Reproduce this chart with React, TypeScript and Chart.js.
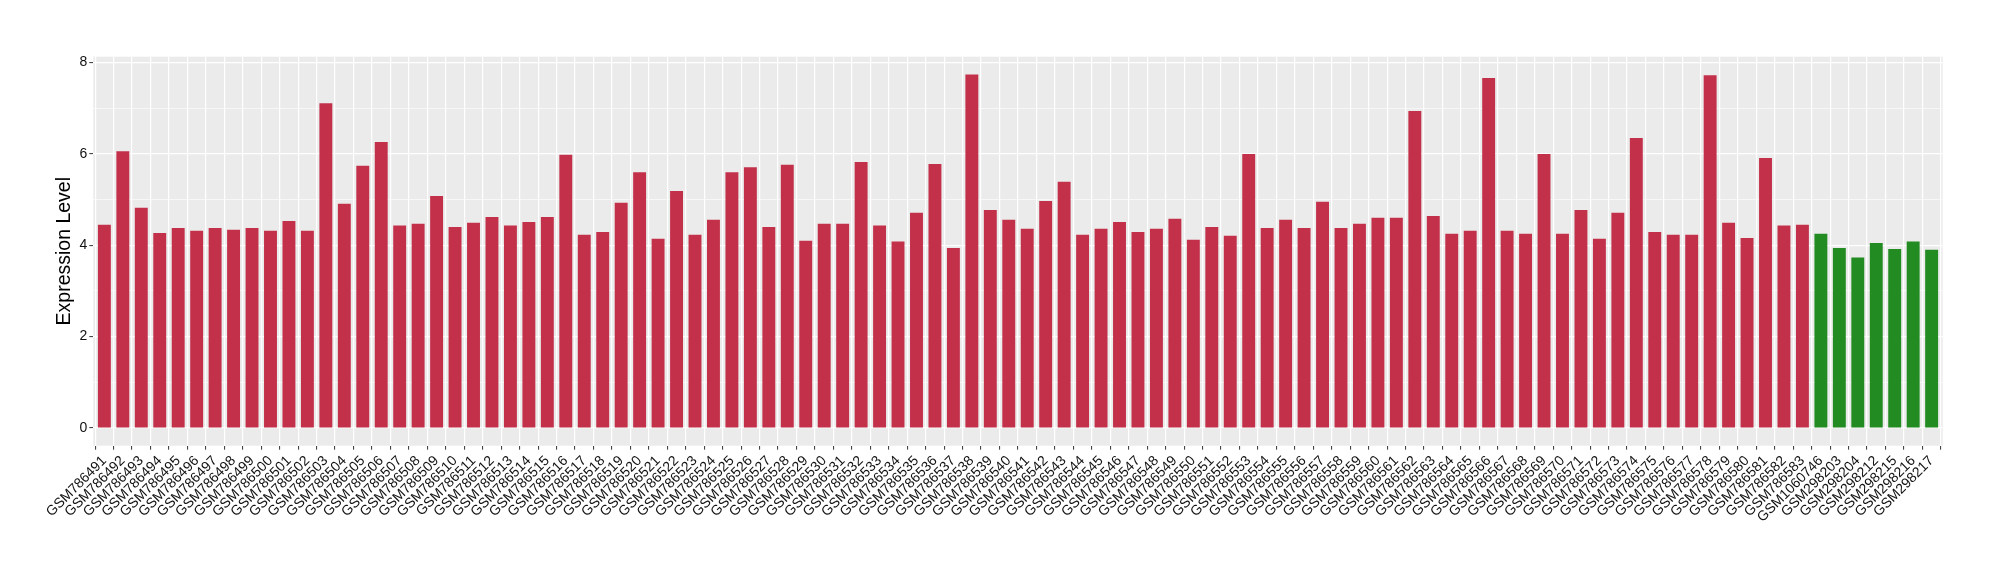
import React, { useEffect, useRef } from 'react';
import { Chart, registerables } from 'chart.js';

Chart.register(...registerables);

const tumorSamples = [
  'GSM786491', 'GSM786492', 'GSM786493', 'GSM786494', 'GSM786495', 'GSM786496', 'GSM786497', 'GSM786498', 'GSM786499', 'GSM786500',
  'GSM786501', 'GSM786502', 'GSM786503', 'GSM786504', 'GSM786505', 'GSM786506', 'GSM786507', 'GSM786508', 'GSM786509', 'GSM786510',
  'GSM786511', 'GSM786512', 'GSM786513', 'GSM786514', 'GSM786515', 'GSM786516', 'GSM786517', 'GSM786518', 'GSM786519', 'GSM786520',
  'GSM786521', 'GSM786522', 'GSM786523', 'GSM786524', 'GSM786525', 'GSM786526', 'GSM786527', 'GSM786528', 'GSM786529', 'GSM786530',
  'GSM786531', 'GSM786532', 'GSM786533', 'GSM786534', 'GSM786535', 'GSM786536', 'GSM786537', 'GSM786538', 'GSM786539', 'GSM786540',
  'GSM786541', 'GSM786542', 'GSM786543', 'GSM786544', 'GSM786545', 'GSM786546', 'GSM786547', 'GSM786548', 'GSM786549', 'GSM786550',
  'GSM786551', 'GSM786552', 'GSM786553', 'GSM786554', 'GSM786555', 'GSM786556', 'GSM786557', 'GSM786558', 'GSM786559', 'GSM786560',
  'GSM786561', 'GSM786562', 'GSM786563', 'GSM786564', 'GSM786565', 'GSM786566', 'GSM786567', 'GSM786568', 'GSM786569', 'GSM786570',
  'GSM786571', 'GSM786572', 'GSM786573', 'GSM786574', 'GSM786575', 'GSM786576', 'GSM786577', 'GSM786578', 'GSM786579', 'GSM786580',
  'GSM786581', 'GSM786582', 'GSM786583',
];

const tumorValues = [
  4.45, 6.06, 4.82, 4.27, 4.38, 4.32, 4.38, 4.34, 4.38, 4.32,
  4.53, 4.32, 7.11, 4.91, 5.74, 6.26, 4.43, 4.47, 5.08, 4.40,
  4.49, 4.62, 4.43, 4.51, 4.62, 5.98, 4.23, 4.29, 4.93, 5.60,
  4.14, 5.19, 4.23, 4.56, 5.60, 5.71, 4.40, 5.76, 4.10, 4.47,
  4.47, 5.82, 4.43, 4.08, 4.71, 5.78, 3.94, 7.74, 4.77, 4.56,
  4.36, 4.97, 5.39, 4.23, 4.36, 4.51, 4.29, 4.36, 4.58, 4.12,
  4.40, 4.21, 6.00, 4.38, 4.56, 4.38, 4.95, 4.38, 4.47, 4.60,
  4.60, 6.94, 4.64, 4.25, 4.32, 7.66, 4.32, 4.25, 6.00, 4.25,
  4.77, 4.14, 4.71, 6.35, 4.29, 4.23, 4.23, 7.72, 4.49, 4.16,
  5.91, 4.43, 4.45,
];

const normalSamples = ['GSM1060746', 'GSM298203', 'GSM298204', 'GSM298212', 'GSM298215', 'GSM298216', 'GSM298217'];
const normalValues = [4.25, 3.94, 3.73, 4.05, 3.92, 4.08, 3.90];

const yTickValues = [0, 2, 4, 6, 8];
const yTickLabels = ['0', '2', '4', '6', '8'];
const yMinorValues = [1, 3, 5, 7];

const TUMOR_COLOR = '#C3304A';
const NORMAL_COLOR = '#228B22';
const PANEL_BG = '#EBEBEB';
const FONT = "'Liberation Sans', Arial, Helvetica, sans-serif";

const panelBackground = {
  id: 'panelBackground',
  beforeDraw(chart: any) {
    const { ctx, chartArea } = chart;
    ctx.save();
    ctx.fillStyle = PANEL_BG;
    ctx.fillRect(chartArea.left, chartArea.top, chartArea.right - chartArea.left, chartArea.bottom - chartArea.top);
    ctx.restore();
  },
};

export default function App() {
  const canvasRef = useRef<HTMLCanvasElement | null>(null);

  useEffect(() => {
    const canvas = canvasRef.current;
    if (!canvas) return;

    const labels = [...tumorSamples, ...normalSamples];
    const values = [...tumorValues, ...normalValues];
    const colors = [
      ...tumorSamples.map(() => TUMOR_COLOR),
      ...normalSamples.map(() => NORMAL_COLOR),
    ];
    const points = values.map((v, i) => ({ x: i, y: v }));

    const chart = new Chart(canvas, {
      type: 'bar',
      data: {
        datasets: [
          {
            data: points as any,
            backgroundColor: colors,
            borderWidth: 0,
            barPercentage: 0.7,
            categoryPercentage: 1.0,
          },
        ],
      },
      plugins: [panelBackground],
      options: {
        responsive: false,
        animation: false,
        devicePixelRatio: 1,
        layout: { padding: { top: 56.7, right: 57.3, left: 0, bottom: 0 } },
        plugins: {
          legend: { display: false },
          tooltip: { enabled: false },
        },
        scales: {
          x: {
            type: 'linear',
            min: -0.6,
            max: labels.length - 1 + 0.6,
            offset: false,
            border: { display: false },
            grid: {
              color: '#FFFFFF',
              lineWidth: 1.2,
              drawTicks: true,
              tickLength: 4,
              tickColor: '#333333',
              tickWidth: 1,
            },
            afterBuildTicks: (scale: any) => {
              scale.ticks = labels.map((_, i) => ({ value: i }));
            },
            ticks: {
              stepSize: 1,
              includeBounds: false,
              autoSkip: false,
              maxTicksLimit: 500,
              minRotation: 45,
              maxRotation: 45,
              padding: 3,
              color: '#111111',
              font: { family: FONT, size: 14 },
              callback: (value: any) => {
                const i = Math.round(Number(value));
                return labels[i] ?? '';
              },
            },
            afterFit: (scale: any) => {
              scale.height = 134.3;
            },
          },
          y: {
            type: 'linear',
            min: -0.387,
            max: 8.127,
            border: { display: false },
            afterBuildTicks: (scale: any) => {
              scale.ticks = [...yTickValues, ...yMinorValues]
                .sort((a, b) => a - b)
                .map((v) => ({ value: v }));
            },
            grid: {
              color: '#FFFFFF',
              lineWidth: (ctx: any) => (yTickValues.includes(ctx.tick?.value) ? 1.2 : 0.6),
              drawTicks: true,
              tickLength: 4,
              tickColor: (ctx: any) => (yTickValues.includes(ctx.tick?.value) ? '#333333' : 'rgba(0,0,0,0)'),
              tickWidth: 1,
            },
            ticks: {
              stepSize: 1,
              includeBounds: false,
              padding: 2,
              color: '#111111',
              font: { family: FONT, size: 14 },
              callback: (value: any) => {
                const idx = yTickValues.indexOf(Number(value));
                return idx >= 0 ? yTickLabels[idx] : '';
              },
            },
            title: {
              display: true,
              text: 'Expression Level',
              color: '#000000',
              font: { family: FONT, size: 19.5 },
              padding: { top: 53, bottom: 0 },
            },
            afterFit: (scale: any) => {
              scale.width = 93.3;
            },
          },
        },
      } as any,
    });

    return () => {
      chart.destroy();
    };
  }, []);

  return (
    <div style={{ position: 'fixed', left: 0, top: 0, width: 2000, height: 580, background: '#FFFFFF' }}>
      <canvas ref={canvasRef} width={2000} height={580} style={{ display: 'block', width: 2000, height: 580 }} />
    </div>
  );
}
